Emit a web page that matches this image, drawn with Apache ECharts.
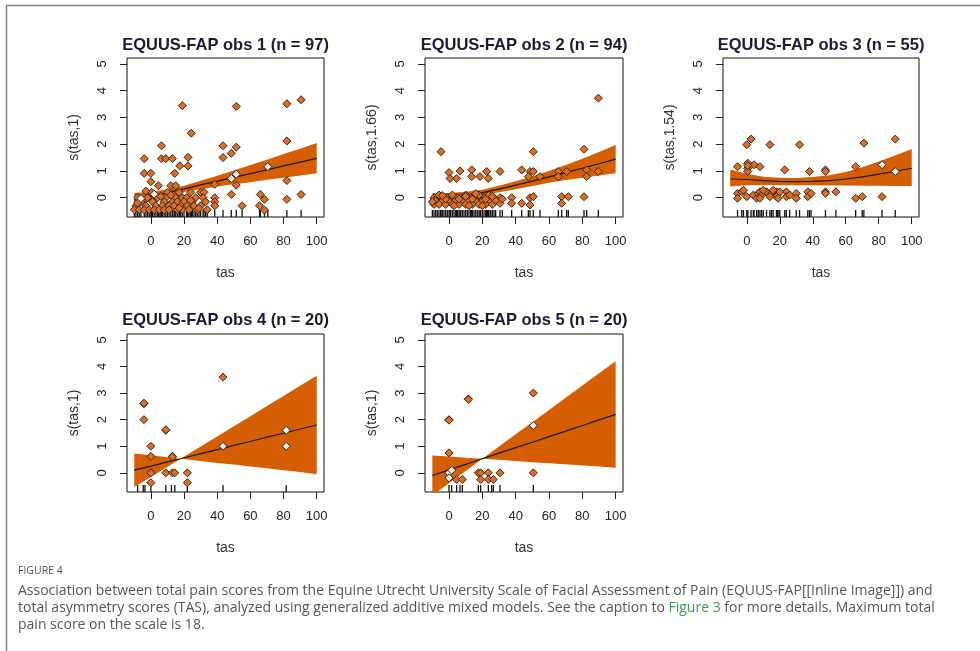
<!DOCTYPE html>
<html><head><meta charset="utf-8">
<script src="https://cdn.jsdelivr.net/npm/echarts@6/dist/echarts.min.js"></script>
<style>html,body{margin:0;padding:0;background:#fff}#c{width:980px;height:651px}</style>
</head><body><div id="c"></div>
<script>
const titles = ['EQUUS-FAP obs 1 (n = 97)','EQUUS-FAP obs 2 (n = 94)','EQUUS-FAP obs 3 (n = 55)','EQUUS-FAP obs 4 (n = 20)','EQUUS-FAP obs 5 (n = 20)'];
const yNames = ['s(tas,1)','s(tas,1.66)','s(tas,1.54)','s(tas,1)','s(tas,1)'];
const xName = 'tas';
const xTicks = [0,20,40,60,80,100];
const yTicks = [0,1,2,3,4,5];

// Panel 1
const p1Points = [
[19,3.44],[51.5,3.41],[82,3.51],[90.6,3.66],[24.4,2.41],[6.4,1.94],[-4,1.46],[6.4,1.46],[9,1.46],[13,1.46],[22.4,1.51],[43.5,1.94],[43.5,1.5],[48.5,1.66],[51.5,1.89],[82,2.12],[-4,0.91],[0,0.91],[0,0.6],[14.4,0.91],[17.4,1.19],[22.4,1.19],[82,0.64],[38.5,0.5],[51.5,0.47],[48.5,0.12],[90.6,0.12],[82,-0.06],[66,0.12],[68.5,-0.06],[55,-0.3],[65.5,-0.3],[68.5,-0.46],
[4.5,0.45],[12,0.45],[15,0.45],
[0.5,0.2],[10,0.2],[17,0.2],[24,0.2],[30,0.2],[32,0.2],
[-8,0],[-2,0],[4,0],[9,0],[15,0],[19,0],[21.5,0],[27,0],[31.5,0],[38.5,0],
[-6,-0.15],[1,-0.15],[8,-0.15],[13,-0.15],[16,-0.15],[20,-0.15],[25,-0.15],[33,-0.15],[38.5,-0.15],
[-9,-0.3],[-3,-0.3],[3,-0.3],[7,-0.3],[11,-0.3],[14,-0.3],[18,-0.3],[22,-0.3],[26,-0.3],[30,-0.3],[38.5,-0.3],
[-10,-0.45],[-7,-0.45],[-4,-0.45],[-1,-0.45],[2,-0.45],[5,-0.45],[8,-0.45],[11,-0.45],[16,-0.45],[19,-0.45],[23,-0.45],[28,-0.45],[34,-0.45],
[-8,-0.2],[6,0.05],[17,-0.38],[24,-0.1],[12,0.1],[-3,0.25],[29,-0.4]];
const p1Open = [[-6,-0.03],[2,0.13],[48.5,0.72],[51.5,0.88],[70.5,1.16]];
const p1BandX = [-10,0,10,20,30,40,50,60,70,80,90,100];
const p1Lo  = [-0.33,-0.12,0.07,0.21,0.32,0.42,0.50,0.58,0.67,0.75,0.83,0.91];
const p1Fit = [-0.09,0.05,0.19,0.33,0.48,0.62,0.76,0.90,1.04,1.19,1.33,1.47];
const p1Hi  = [0.18,0.22,0.31,0.45,0.63,0.82,1.02,1.22,1.42,1.63,1.83,2.04];

// Panel 2
const p2Points = [
[89.6,3.72],[-4.8,1.72],[50.6,1.72],[81,1.81],[0,0.94],[0.6,0.72],[4.6,0.72],[6.6,1.0],[13.6,1.04],[13.6,0.79],[18.6,0.79],[22.6,0.98],[23.6,0.72],[30.6,0.98],[43.6,1.04],[48.6,0.98],[50.6,0.98],[47.6,0.79],[54.6,0.79],[65.6,0.98],[70.6,0.98],[65.6,0.79],[82.6,1.04],[82.6,0.79],[89.6,0.98],[37.6,0],[37.6,-0.21],[43.6,-0.21],[48.6,0],[50.6,0.04],[48.6,-0.27],[67.6,0.04],[67.6,-0.21],[71.6,0.04],[81,0.04],[30.6,0],[30.6,-0.21],
[-9,0],[-7,0],[-5,0],[-3,0],[-1,0],[1,0],[3,0],[5,0],[7,0],[9,0],[11,0],[13,0],[15,0],[17,0],[19,0],[21,0],[23,0],[25,0],[27,0],
[-8,-0.12],[-4,-0.12],[0,-0.12],[4,-0.12],[8,-0.12],[12,-0.12],[16,-0.12],[20,-0.12],[24,-0.12],
[-9,-0.25],[-6,-0.25],[-2,-0.25],[2,-0.25],[6,-0.25],[10,-0.25],[14,-0.25],[18,-0.25],[22,-0.25],[26,-0.25],
[-6,0.1],[2,0.1],[10,0.1],[18,0.1],[24,0.1],
[-2,-0.05],[6,-0.05],[14,-0.05],[22,-0.05],[28,-0.1],[32,-0.05],[-10,-0.15],[10,0.05],[16,0.15],[20,-0.3],[-4,0.08],[26,0.05],[3,-0.3],[12,-0.3]];
const p2Open = [];
const p2BandX = [-10,0,10,20,30,40,50,60,70,80,90,100];
const p2Lo  = [-0.22,-0.12,-0.02,0.08,0.20,0.32,0.44,0.56,0.66,0.75,0.83,0.91];
const p2Fit = [-0.03,0.03,0.10,0.19,0.32,0.47,0.62,0.78,0.94,1.10,1.27,1.44];
const p2Hi  = [0.17,0.18,0.22,0.30,0.45,0.62,0.80,1.00,1.22,1.46,1.71,1.97];

// Panel 3
const p3Points = [
[2.6,2.19],[0,1.98],[14,1.98],[32,1.98],[71,2.04],[90,2.19],[-5.6,1.16],[0.6,1.29],[0.6,1.1],[0.6,0.98],[4.4,1.23],[8,1.16],[23,1.04],[38,0.98],[47.7,1.04],[47.7,0.98],[66,1.16],
[-5.6,0.16],[-5.6,-0.02],[-3,0.22],[0,0.04],[4,0.1],[6,-0.02],[7,0.16],[8,0.22],[9,0.1],[8,-0.02],[12,0.22],[15,0.16],[18,0.22],[18.5,0.1],[18,0.04],[19,-0.02],[24,0.22],[24,0.04],[30,0.16],[30,-0.02],[37,0.22],[37,0.04],[39,0.16],[47.7,0.22],[47.7,0.16],[54,0.22],[66,-0.02],[70,0.04],[82,0.04],
[-2,0.28],[10,0.28],[14,0.04],[16,0.28],[20,0.22],[26,0.1],[0.6,1.2]];
const p3Open = [[82,1.23],[90,0.98]];
const p3BandX = [-10,0,10,20,30,40,50,60,70,80,90,100];
const p3Lo  = [0.42,0.47,0.48,0.47,0.47,0.47,0.46,0.46,0.45,0.45,0.44,0.44];
const p3Fit = [0.70,0.68,0.64,0.61,0.60,0.61,0.64,0.70,0.78,0.88,0.99,1.10];
const p3Hi  = [1.05,0.90,0.78,0.75,0.74,0.77,0.84,0.96,1.14,1.35,1.58,1.82];

// Panel 4
const p4Points = [[43.5,3.6],[-4.2,2.6],[-4.2,2.62],[-4.2,2.0],[9,1.6],[9,1.62],[0,1.0],[0,0.62],[13,0.62],[13,0.6],[0,0],[9,0],[13,0],[14.4,0],[22,0],[0,-0.37],[22,-0.37]];
const p4Open = [[43.5,1.0],[81.6,1.6],[81.6,1.0]];
const p4Rug = [-8,-4.6,-3.6,0,9,12.4,14.4,22,43.5,81.6];
const p4BandX = [-10,0,10,18,30,40,50,60,70,80,90,100];
const p4Lo  = [-0.53,-0.16,0.23,0.53,0.45,0.37,0.31,0.24,0.17,0.10,0.03,-0.05];
const p4Fit = [0.10,0.25,0.41,0.53,0.72,0.87,1.03,1.18,1.34,1.49,1.65,1.80];
const p4Hi  = [0.73,0.66,0.59,0.53,0.99,1.37,1.75,2.13,2.51,2.89,3.27,3.65];

// Panel 5
const p5Points = [[50.6,3.0],[11.6,2.78],[11.6,2.76],[0,2.0],[0,1.98],[0,0.75],[4.6,-0.25],[8,-0.25],[17.6,0],[19,0],[19,-0.25],[23.6,0],[23.6,-0.25],[26.6,-0.25],[30.6,0],[50.6,0]];
const p5Open = [[50.6,1.78],[0,0],[0,-0.19],[1.6,0.1]];
const p5Rug = [0,1.6,4.6,6.6,8,17.6,19,23.6,25.6,26.6,30.6,50.6];
const p5BandX = [-10,0,10,20,30,40,50,60,70,80,90,100];
const p5Lo  = [-0.85,-0.39,0.07,0.53,0.49,0.45,0.40,0.36,0.32,0.28,0.24,0.19];
const p5Fit = [-0.10,0.11,0.32,0.53,0.74,0.95,1.15,1.36,1.57,1.78,1.99,2.20];
const p5Hi  = [0.65,0.61,0.57,0.53,0.99,1.45,1.90,2.36,2.82,3.28,3.74,4.20];

const caption1 = 'Association between total pain scores from the Equine Utrecht University Scale of Facial Assessment of Pain (EQUUS-FAP[[Inline Image]]) and';
const caption2a = 'total asymmetry scores (TAS), analyzed using generalized additive mixed models. See the caption to ';
const caption2b = 'Figure 3';
const caption2c = ' for more details. Maximum total';
const caption3 = 'pain score on the scale is 18.';

const uniq = a => [...new Set(a)];
const panels = [
  {pts:p1Points, open:p1Open, rug:uniq(p1Points.concat(p1Open).map(p=>p[0])), bx:p1BandX, lo:p1Lo, fit:p1Fit, hi:p1Hi},
  {pts:p2Points, open:p2Open, rug:uniq(p2Points.concat(p2Open).map(p=>p[0])), bx:p2BandX, lo:p2Lo, fit:p2Fit, hi:p2Hi},
  {pts:p3Points, open:p3Open, rug:uniq(p3Points.concat(p3Open).map(p=>p[0])), bx:p3BandX, lo:p3Lo, fit:p3Fit, hi:p3Hi},
  {pts:p4Points, open:p4Open, rug:p4Rug, bx:p4BandX, lo:p4Lo, fit:p4Fit, hi:p4Hi},
  {pts:p5Points, open:p5Open, rug:p5Rug, bx:p5BandX, lo:p5Lo, fit:p5Fit, hi:p5Hi}
];

const X_MIN = -14.4, X_MAX = 104.4, Y_MIN = -0.72, Y_MAX = 5.22;
const gridRects = [
  {left:127, top:58, width:197, height:159},
  {left:425, top:58, width:198, height:159},
  {left:723, top:58, width:196, height:159},
  {left:127, top:334, width:197, height:158},
  {left:425, top:334, width:198, height:158}
];
const titleTops = [37, 37, 37, 312, 312];
const FONT = 'Liberation Sans, Arial, sans-serif';
const BAND = '#d55e00';

const grid = [], xAxis = [], yAxis = [], series = [], title = [];
panels.forEach((p, i) => {
  const g = gridRects[i];
  grid.push(Object.assign({show:true, borderColor:'#111', borderWidth:1, backgroundColor:'transparent', containLabel:false}, g));
  title.push({text:titles[i], left:g.left + g.width/2, top:titleTops[i], textAlign:'center', padding:0,
    textStyle:{fontSize:16.5, fontWeight:'bold', color:'#1b1b33', fontFamily:FONT}});
  xAxis.push({gridIndex:i, type:'value', min:X_MIN, max:X_MAX,
    axisLine:{show:false, onZero:false}, splitLine:{show:false},
    axisTick:{show:true, customValues:xTicks, length:7, lineStyle:{color:'#222', width:1}},
    axisLabel:{customValues:xTicks, margin:18, fontSize:13, color:'#222', fontFamily:FONT},
    name:xName, nameLocation:'middle', nameGap:49, nameTextStyle:{fontSize:14, color:'#333', fontFamily:FONT}});
  yAxis.push({gridIndex:i, type:'value', min:Y_MIN, max:Y_MAX,
    axisLine:{show:false, onZero:false}, splitLine:{show:false},
    axisTick:{show:true, customValues:yTicks, length:7, lineStyle:{color:'#222', width:1}},
    axisLabel:{customValues:yTicks, margin:18, rotate:90, fontSize:13, color:'#222', fontFamily:FONT},
    name:yNames[i], nameLocation:'middle', nameGap:46, nameTextStyle:{fontSize:14, color:'#333', fontFamily:FONT}});
  series.push({type:'custom', xAxisIndex:i, yAxisIndex:i, coordinateSystem:'cartesian2d', clip:true, silent:true, z:1,
    data:[[0,0]],
    renderItem:(params, api) => {
      const pts = [];
      for (let k = 0; k < p.bx.length; k++) pts.push(api.coord([p.bx[k], p.hi[k]]));
      for (let k = p.bx.length - 1; k >= 0; k--) pts.push(api.coord([p.bx[k], p.lo[k]]));
      return {type:'polygon', shape:{points:pts}, style:{fill:BAND, stroke:null}};
    }});
  series.push({type:'line', xAxisIndex:i, yAxisIndex:i, z:2, silent:true, symbol:'none', clip:true,
    data:p.bx.map((x,k)=>[x, p.fit[k]]), lineStyle:{color:'#1a1a1a', width:1.2}});
  series.push({type:'scatter', xAxisIndex:i, yAxisIndex:i, z:3, silent:true, clip:false,
    symbol:'rect', symbolSize:[1.3,7], symbolOffset:[0,-3.5],
    data:p.rug.map(x=>[x, Y_MIN]), itemStyle:{color:'#111', opacity:1}});
  series.push({type:'scatter', xAxisIndex:i, yAxisIndex:i, z:4, silent:true,
    symbol:'diamond', symbolSize:8,
    data:p.pts, itemStyle:{color:'#e26d1f', borderColor:'#2a2a2a', borderWidth:1, opacity:1}});
  series.push({type:'scatter', xAxisIndex:i, yAxisIndex:i, z:4, silent:true,
    symbol:'diamond', symbolSize:8,
    data:p.open, itemStyle:{color:'#f6ebe2', borderColor:'#2a2a2a', borderWidth:1, opacity:1}});
});

const CAP = 'Open Sans, sans-serif';
const CAPF = '14px ' + CAP;
const graphic = [
  {type:'polyline', shape:{points:[[6.5,651],[6.5,5.5],[980,5.5]]}, style:{stroke:'#808080', lineWidth:1.5, fill:null}, silent:true},
  {type:'text', left:18, top:566, style:{text:'FIGURE 4', font:'10.5px ' + CAP, fill:'#555'}, silent:true},
  {type:'text', left:18, top:584, style:{text:caption1, font:CAPF, fill:'#555'}, silent:true},
  {type:'text', left:18, top:601, style:{text:caption2a + '{g|' + caption2b + '}' + caption2c, font:CAPF, fill:'#555',
    rich:{g:{fill:'#3aa04a', font:CAPF}}}, silent:true},
  {type:'text', left:18, top:618, style:{text:caption3, font:CAPF, fill:'#555'}, silent:true}
];

const chart = echarts.init(document.getElementById('c'), null, {renderer:'canvas'});
chart.setOption({backgroundColor:'#fff', animation:false, title, grid, xAxis, yAxis, series, graphic});
</script>
</body></html>
